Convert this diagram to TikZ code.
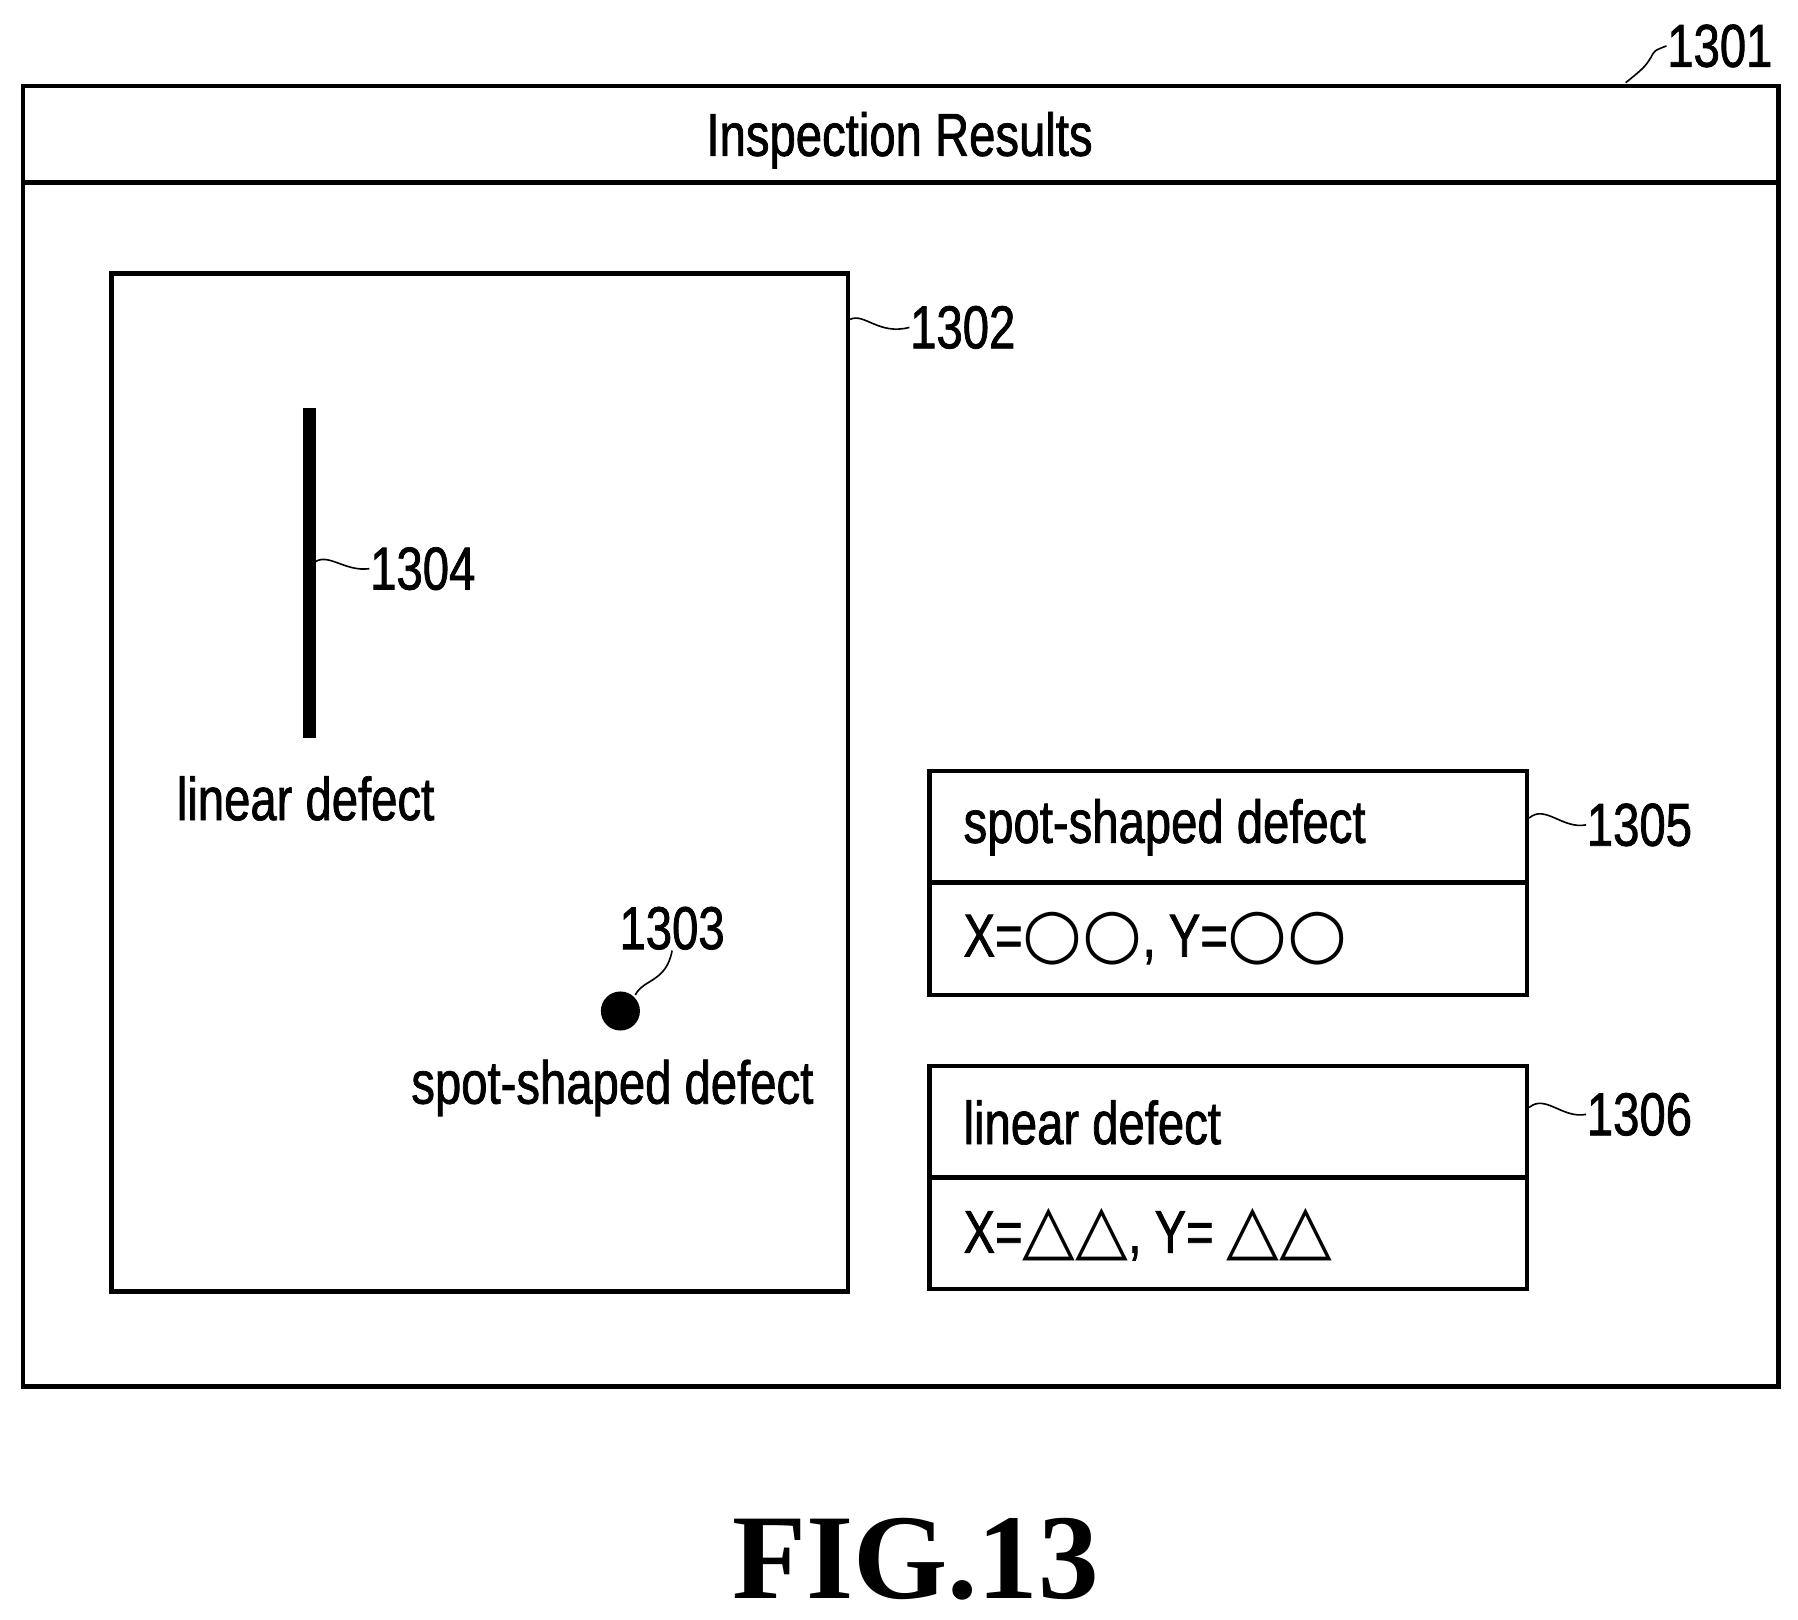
\documentclass[tikz,border=0pt]{standalone}
\usepackage{fontspec}
\setmainfont[FakeStretch=0.78,FakeBold=1.2]{Liberation Sans}
\newfontfamily\symfont{DejaVu Sans}
\newfontfamily\figfont{Liberation Serif}
\begin{document}
\begin{tikzpicture}[x=0.01cm,y=-0.01cm]
		\tikzset{txt/.style={font=\fontsize{15}{17}\selectfont, inner sep=0pt},
			lbl/.style={font=\fontsize{15}{17}\selectfont, inner sep=0pt},
			box/.style={draw=black, line width=1.1pt}}
		\useasboundingbox (0,0) rectangle (1565,1410);
		% outer window
		\draw [box] (20,75) rectangle (1548,1207);
		\draw [line width=1.1pt] (20,159) -- (1548,159);
		\node [txt] (title) at (783,122) {Inspection Results};
		\node [lbl] (n1301) at (1497,40) {1301};
		\draw (1415,72) .. controls (1430,60) and (1432,58) .. (1437,50) .. controls (1440,44) .. (n1301.west);
		% image area
		\draw [box] (97,238) rectangle (738,1124);
		\node [lbl] (n1302) at (838,285) {1302};
		\draw (740,278) .. controls (752,272) and (765,292) .. (n1302.west);
		\draw [line width=3.2pt] (269,355) -- (269,642);
		\coordinate (bar) at (273,490);
		\node [lbl] (n1304) at (368,495) {1304};
		\draw (bar) .. controls (285,480) and (300,498) .. (n1304.west);
		\node [txt] (lin) at (266,695) {linear defect};
		\fill (540,880) circle (17);
		\coordinate (dot) at (553,866);
		\node [lbl] (n1303) at (585,808) {1303};
		\draw (dot) .. controls (560,852) and (580,855) .. (n1303.south);
		\node [txt] (spot) at (533,947) {spot-shaped defect};
		% result boxes
		\draw [box] (809,671) rectangle (1329,866);
		\draw [line width=1.1pt] (809,768) -- (1329,768);
		\node [txt, anchor=west] (r1a) at (838,720) {spot-shaped defect};
		\node [txt, anchor=west] (r1b) at (838,817) {X={\symfont\fontsize{17}{19}\selectfont ○○}, Y={\symfont\fontsize{17}{19}\selectfont ○○}};
		\node [lbl] (n1305) at (1427,718) {1305};
		\draw (1331,712) .. controls (1345,700) and (1360,722) .. (n1305.west);
		\draw [box] (809,928) rectangle (1329,1122);
		\draw [line width=1.1pt] (809,1025) -- (1329,1025);
		\node [txt, anchor=west] (r2a) at (838,977) {linear defect};
		\node [txt, anchor=west] (r2b) at (838,1075) {X={\symfont\fontsize{17}{19}\selectfont △△}, Y= {\symfont\fontsize{17}{19}\selectfont △△}};
		\node [lbl] (n1306) at (1427,970) {1306};
		\draw (1331,964) .. controls (1345,952) and (1360,974) .. (n1306.west);
		\node [font=\figfont\bfseries\fontsize{30}{34}\selectfont] (fig) at (797,1357) {FIG.13};
		\end{tikzpicture}
\end{document}
